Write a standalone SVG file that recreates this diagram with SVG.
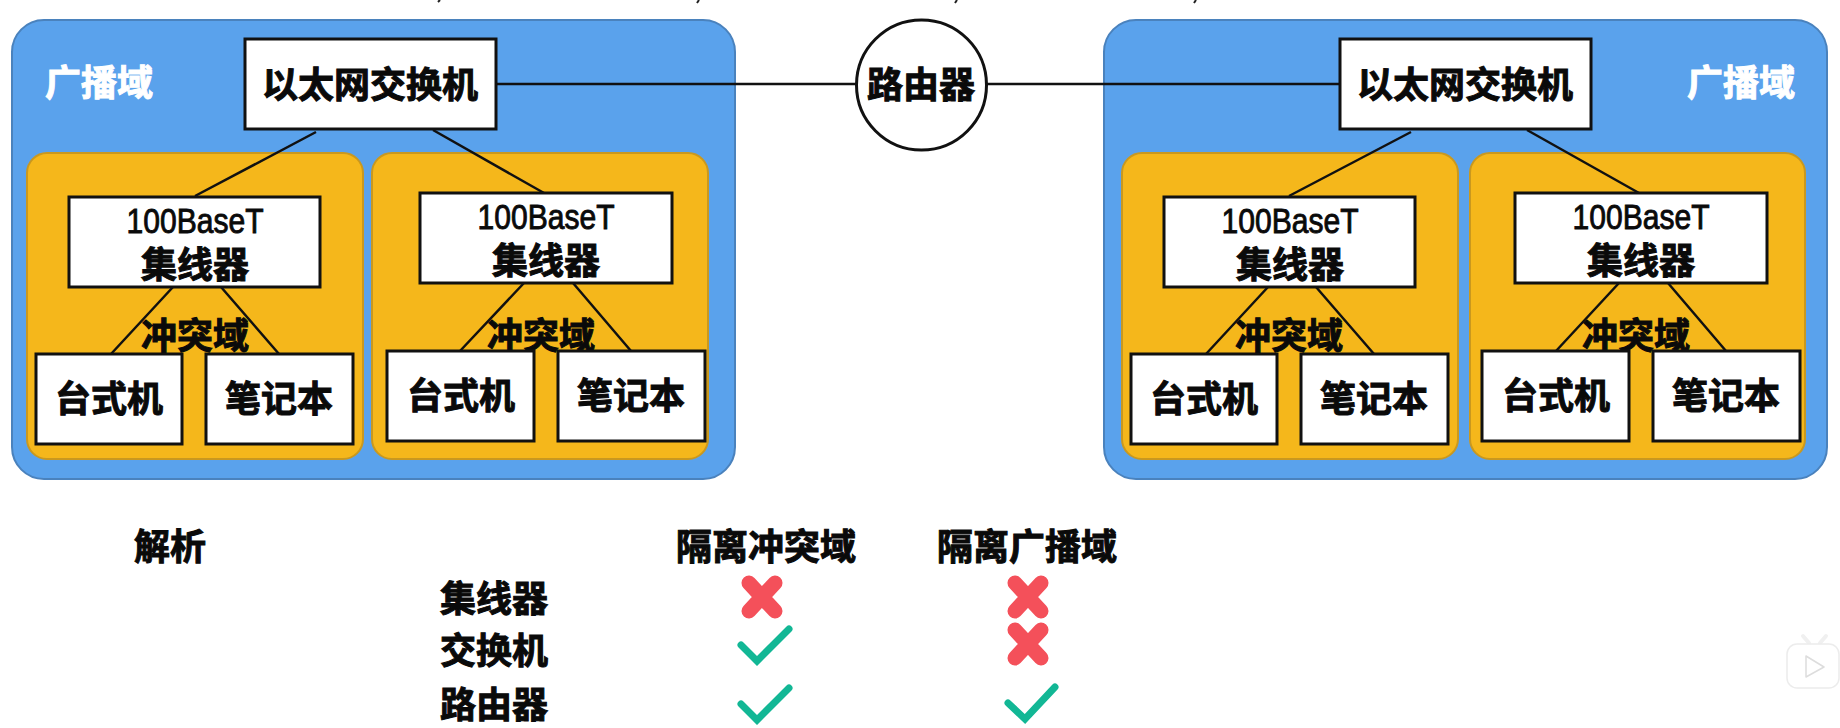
<svg xmlns="http://www.w3.org/2000/svg" width="1840" height="728" viewBox="0 0 1840 728">
<defs>
<style>
.bc{fill:#5aa2ec;stroke:#4a82bd;stroke-width:2}
.co{fill:#f5b71b;stroke:#c9981f;stroke-width:2}
.bx{fill:#fff;stroke:#111;stroke-width:3}
.l{stroke:#111;stroke-width:2.5;fill:none}
text{font-family:"Noto Sans CJK SC","Liberation Sans",sans-serif;font-weight:700;font-size:36px;text-anchor:middle;fill:#0a0a0a;stroke:#0a0a0a;stroke-width:1}
.en{font-family:"Liberation Sans","Noto Sans CJK SC",sans-serif;font-weight:400;font-size:35px;stroke-width:.9}
text.w{fill:#fff;stroke:#fff}
.chk{fill:none;stroke:#12b795;stroke-width:7;stroke-linecap:round;stroke-linejoin:miter}
.x{fill:none;stroke:#f4505a;stroke-width:15;stroke-linecap:round}
</style>
<g id="cross"><path class="x" d="M-13-14L13 14M13-14L-13 14"/></g>
</defs>
<rect width="1840" height="728" fill="#fff"/>
<g id="domains">
<rect class="bc" x="12" y="20" width="723" height="459" rx="32"/>
<rect class="co" x="27" y="153" width="336" height="306" rx="20"/>
<rect class="co" x="372" y="153" width="336" height="306" rx="20"/>
<rect class="bc" x="1104" y="20" width="723" height="459" rx="32"/>
<rect class="co" x="1122" y="153" width="336" height="306" rx="20"/>
<rect class="co" x="1470" y="153" width="335" height="306" rx="20"/>
</g>
<g id="connectors">
<path class="l" d="M496 84H857M986 84H1340"/>
<path class="l" d="M316 132L195 196M433 130L544 193M173 287L111 354M221 287L279 354M524 283L460 351M573 283L631 351"/>
<path class="l" d="M1411 132L1289 196M1527 130L1639 193M1268 287L1206 354M1316 287L1374 354M1619 283L1556 351M1668 283L1726 351"/>
</g>
<path id="cropped-top" d="M440 0L438 2M699 0L697 3M957 0L955 3M1196 0L1194 3" stroke="#222" stroke-width="2" fill="none"/>
<text class="w" x="99" y="96">广播域</text>
<text class="w" x="1741" y="96">广播域</text>
<g id="switch-left"><rect class="bx" x="245" y="39" width="251" height="90"/><text x="370" y="98">以太网交换机</text></g>
<g id="switch-right"><rect class="bx" x="1340" y="39" width="251" height="90"/><text x="1465" y="98">以太网交换机</text></g>
<g id="router"><circle cx="921.5" cy="85" r="65" fill="#fff" stroke="#111" stroke-width="3"/><text x="921" y="98">路由器</text></g>
<g id="hub-1"><rect class="bx" x="69" y="197" width="251" height="90"/><text class="en" x="195" y="233" textLength="137" lengthAdjust="spacingAndGlyphs">100BaseT</text><text x="195" y="278">集线器</text></g>
<g id="hub-2"><rect class="bx" x="420" y="193" width="252" height="90"/><text class="en" x="546" y="229" textLength="137" lengthAdjust="spacingAndGlyphs">100BaseT</text><text x="546" y="274">集线器</text></g>
<g id="hub-3"><rect class="bx" x="1164" y="197" width="251" height="90"/><text class="en" x="1290" y="233" textLength="137" lengthAdjust="spacingAndGlyphs">100BaseT</text><text x="1290" y="278">集线器</text></g>
<g id="hub-4"><rect class="bx" x="1515" y="193" width="252" height="90"/><text class="en" x="1641" y="229" textLength="137" lengthAdjust="spacingAndGlyphs">100BaseT</text><text x="1641" y="274">集线器</text></g>
<text x="195" y="349">冲突域</text><text x="541" y="349">冲突域</text><text x="1289" y="349">冲突域</text><text x="1636" y="349">冲突域</text>
<g id="pc-1"><rect class="bx" x="36" y="354" width="146" height="90"/><text x="109" y="412">台式机</text></g>
<g id="laptop-1"><rect class="bx" x="206" y="354" width="147" height="90"/><text x="279" y="412">笔记本</text></g>
<g id="pc-2"><rect class="bx" x="387" y="351" width="147" height="90"/><text x="461" y="409">台式机</text></g>
<g id="laptop-2"><rect class="bx" x="558" y="351" width="147" height="90"/><text x="631" y="409">笔记本</text></g>
<g id="pc-3"><rect class="bx" x="1131" y="354" width="146" height="90"/><text x="1204" y="412">台式机</text></g>
<g id="laptop-3"><rect class="bx" x="1301" y="354" width="147" height="90"/><text x="1374" y="412">笔记本</text></g>
<g id="pc-4"><rect class="bx" x="1482" y="351" width="147" height="90"/><text x="1556" y="409">台式机</text></g>
<g id="laptop-4"><rect class="bx" x="1653" y="351" width="147" height="90"/><text x="1726" y="409">笔记本</text></g>
<g id="analysis">
<text x="170" y="560">解析</text>
<text x="766" y="560">隔离冲突域</text>
<text x="1027" y="560">隔离广播域</text>
<text x="494" y="612">集线器</text>
<text x="494" y="664">交换机</text>
<text x="494" y="718">路由器</text>
<use href="#cross" x="762" y="597"/>
<use href="#cross" x="1028" y="597"/>
<use href="#cross" x="1028" y="644"/>
<path class="chk" d="M741 645L757 661L789 629"/>
<path class="chk" d="M741 704L757 720L789 688"/>
<path class="chk" d="M1008 703L1025 719L1055 687"/>
</g>
<g id="watermark" fill="#fff" stroke="#ececec" stroke-width="1.5">
<path d="M1809 643L1803 636M1820 643L1826 636" stroke-width="4" stroke="#f0f0f0" stroke-linecap="round"/>
<rect x="1787" y="644" width="52" height="44" rx="10"/>
<path d="M1806 656L1824 667L1806 677Z" stroke="#ddd" stroke-linejoin="round"/>
</g>
</svg>
